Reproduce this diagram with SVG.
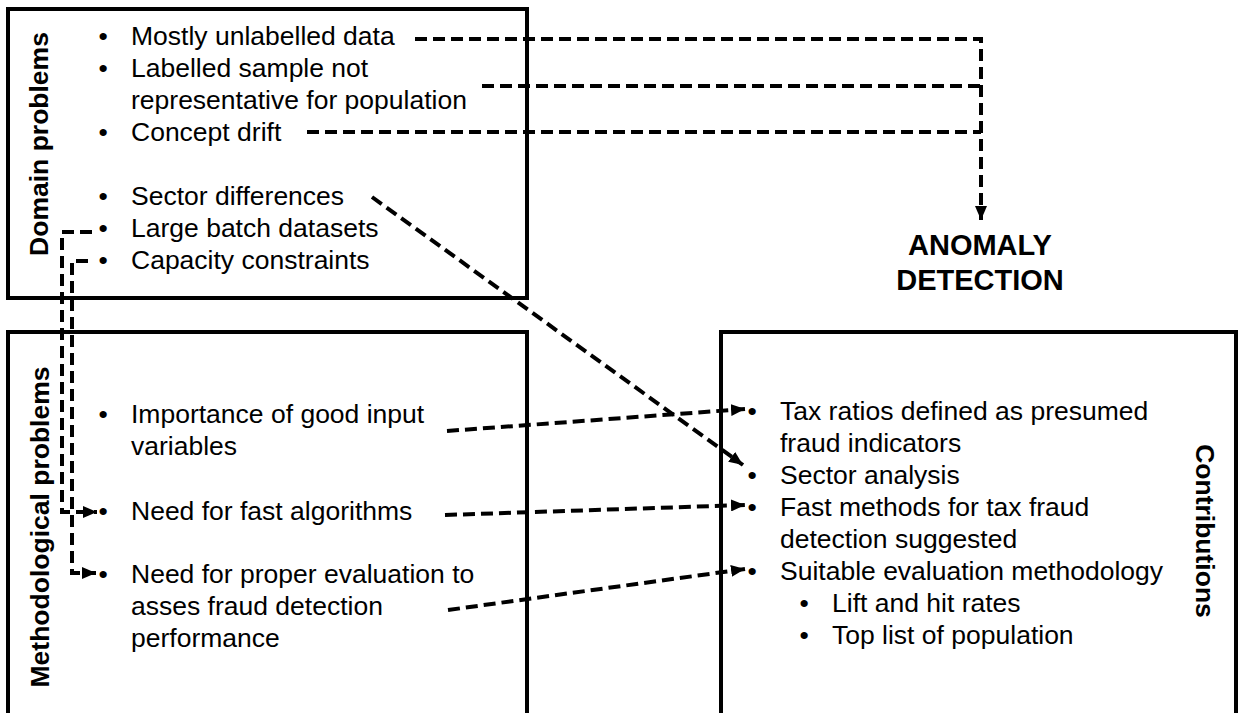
<svg xmlns="http://www.w3.org/2000/svg" width="1240" height="713" viewBox="0 0 1240 713">
<defs>
<style>
.box{fill:none;stroke:#000;stroke-width:4}
.t{font-family:"Liberation Sans",Arial,sans-serif;font-size:26.5px;fill:#000}
.lbl{font-family:"Liberation Sans",Arial,sans-serif;font-size:26.5px;font-weight:bold;fill:#000}
.big{font-family:"Liberation Sans",Arial,sans-serif;font-size:29px;font-weight:bold;fill:#000}
.c{fill:none;stroke:#000;stroke-width:4;stroke-dasharray:12 6}
</style>
<marker id="ah" markerUnits="userSpaceOnUse" markerWidth="15" markerHeight="12" refX="14" refY="6" orient="auto">
<path d="M0,0 L14,6 L0,12 z" fill="#000"/>
</marker>
</defs>
<rect width="1240" height="713" fill="#fff"/>

<g id="domain">
<rect class="box" x="8" y="9" width="519" height="289"/>
<text class="lbl" transform="translate(48,144) rotate(-90)" text-anchor="middle">Domain problems</text>
<text class="t" x="98.5" y="45">•</text><text class="t" x="131" y="45">Mostly unlabelled data</text>
<text class="t" x="98.5" y="77">•</text><text class="t" x="131" y="77">Labelled sample not</text>
<text class="t" x="131" y="109">representative for population</text>
<text class="t" x="98.5" y="141">•</text><text class="t" x="131" y="141">Concept drift</text>
<text class="t" x="98.5" y="205">•</text><text class="t" x="131" y="205">Sector differences</text>
<text class="t" x="98.5" y="237">•</text><text class="t" x="131" y="237">Large batch datasets</text>
<text class="t" x="98.5" y="269">•</text><text class="t" x="131" y="269">Capacity constraints</text>
</g>

<g id="methodological">
<rect class="box" x="8" y="332" width="519" height="400"/>
<text class="lbl" transform="translate(49,527) rotate(-90)" text-anchor="middle">Methodological problems</text>
<text class="t" x="98.5" y="423">•</text><text class="t" x="131" y="423">Importance of good input</text>
<text class="t" x="131" y="455">variables</text>
<text class="t" x="98.5" y="520">•</text><text class="t" x="131" y="520">Need for fast algorithms</text>
<text class="t" x="98.5" y="583">•</text><text class="t" x="131" y="583">Need for proper evaluation to</text>
<text class="t" x="131" y="615">asses fraud detection</text>
<text class="t" x="131" y="647">performance</text>
</g>

<g id="contributions">
<rect class="box" x="721" y="332" width="515" height="400"/>
<text class="lbl" transform="translate(1196,531) rotate(90)" text-anchor="middle">Contributions</text>
<text class="t" x="747.5" y="420">•</text><text class="t" x="780" y="420">Tax ratios defined as presumed</text>
<text class="t" x="780" y="452">fraud indicators</text>
<text class="t" x="747.5" y="484">•</text><text class="t" x="780" y="484">Sector analysis</text>
<text class="t" x="747.5" y="516">•</text><text class="t" x="780" y="516">Fast methods for tax fraud</text>
<text class="t" x="780" y="548">detection suggested</text>
<text class="t" x="747.5" y="580">•</text><text class="t" x="780" y="580">Suitable evaluation methodology</text>
<text class="t" x="799.5" y="612">•</text><text class="t" x="832" y="612">Lift and hit rates</text>
<text class="t" x="799.5" y="644">•</text><text class="t" x="832" y="644">Top list of population</text>
</g>

<g id="anomaly">
<text class="big" x="980" y="255" text-anchor="middle">ANOMALY</text>
<text class="big" x="980" y="290" text-anchor="middle">DETECTION</text>
</g>

<g id="connectors">
<path class="c" d="M415,39 H981 V220" marker-end="url(#ah)"/>
<path class="c" d="M482,86 H981"/>
<path class="c" d="M307,132 H981"/>
<path class="c" d="M92,232 H62 V512 H97" marker-end="url(#ah)"/>
<path class="c" d="M88,261 H72 V573 H96" marker-end="url(#ah)"/>
<path class="c" d="M447,431 L745,409" marker-end="url(#ah)"/>
<path class="c" d="M372,197 L743,465" marker-end="url(#ah)"/>
<path class="c" d="M445,515 L745,505" marker-end="url(#ah)"/>
<path class="c" d="M448,610 L745,569" marker-end="url(#ah)"/>
</g>
</svg>
